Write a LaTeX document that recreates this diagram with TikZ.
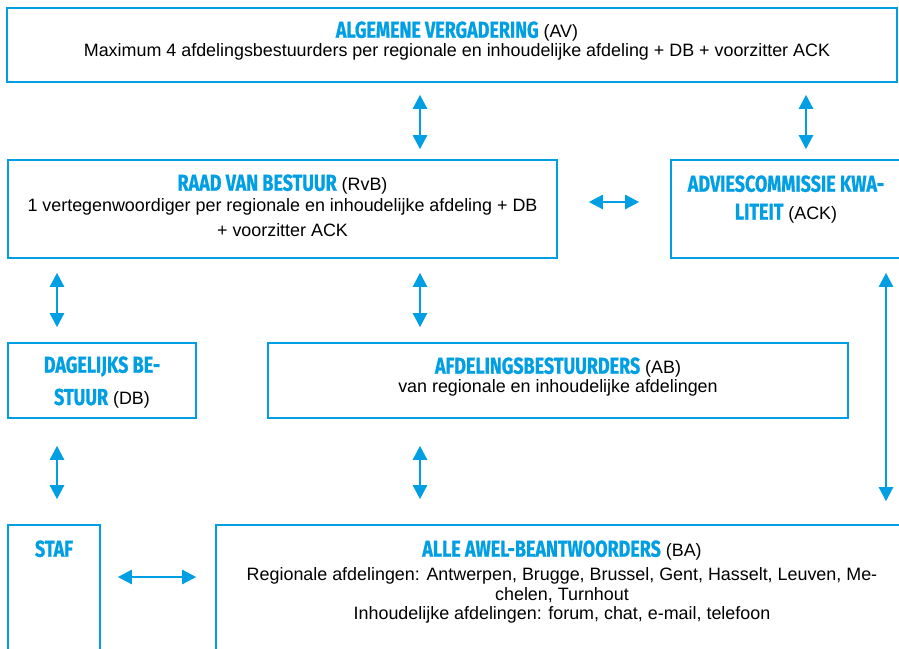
\documentclass[tikz,border=0pt]{standalone}
\usepackage{fontspec}
\setmainfont{Liberation Sans}
\newfontfamily\titlefont[FakeStretch=0.78,BoldFeatures={FakeBold=0.8}]{Fira Sans}
\usetikzlibrary{arrows.meta,positioning}
\definecolor{awelblue}{RGB}{0,158,227}
\newcommand{\boxtitle}[1]{{\titlefont\bfseries\fontsize{23}{23}\selectfont\color{awelblue}#1}}
\tikzset{
  orgbox/.style={draw=awelblue, line width=1.6pt, inner sep=0pt},
  boxtext/.style={anchor=north, align=center, inner sep=0pt, font=\fontsize{17.9}{19}\selectfont},
  link/.style={draw=awelblue, line width=2.4pt, {Triangle[length=14pt,width=14pt]}-{Triangle[length=14pt,width=14pt]}}
}
\begin{document}
\begin{tikzpicture}[x=1pt, y=-1pt]
  \clip (0,0) rectangle (899,648);
  % boxes
  \node[orgbox, minimum width=890pt, minimum height=74pt] (av) at (452,45) {};
  \node[orgbox, minimum width=549pt, minimum height=98pt] (rvb) at (282.5,209) {};
  \node[orgbox, minimum width=230pt, minimum height=98pt] (ack) at (786,209) {};
  \node[orgbox, minimum width=188pt, minimum height=75pt] (db) at (102,380.5) {};
  \node[orgbox, minimum width=580pt, minimum height=75pt] (ab) at (558,380.5) {};
  \node[orgbox, minimum width=92pt, minimum height=140pt] (staf) at (54,595) {};
  \node[orgbox, minimum width=700pt, minimum height=140pt] (ba) at (566,595) {};
  % texts
  \node[boxtext, below=14pt of av.north, xshift=5pt] (avtxt) {\boxtitle{ALGEMENE VERGADERING} (AV)\\
    Maximum 4 afdelingsbestuurders per regionale en inhoudelijke afdeling + DB + voorzitter ACK};
  \node[boxtext, below=15pt of rvb.north] (rvbtxt) {\boxtitle{RAAD VAN BESTUUR} (RvB)\\[2pt]
    1 vertegenwoordiger per regionale en inhoudelijke afdeling + DB\\[6pt]
    + voorzitter ACK};
  \node[boxtext, below=16pt of ack.north] (acktxt) {\boxtitle{ADVIESCOMMISSIE KWA-}\\[9pt]
    \boxtitle{LITEIT} (ACK)};
  \node[boxtext, below=14pt of db.north] (dbtxt) {\boxtitle{DAGELIJKS BE-}\\[11pt]
    \boxtitle{STUUR} (DB)};
  \node[boxtext, below=15pt of ab.north] (abtxt) {\boxtitle{AFDELINGSBESTUURDERS} (AB)\\
    van regionale en inhoudelijke afdelingen};
  \node[boxtext, below=16pt of staf.north] (staftxt) {\boxtitle{STAF}};
  \node[boxtext, below=16pt of ba.north, xshift=-4pt] (batxt) {\boxtitle{ALLE AWEL-BEANTWOORDERS} (BA)\\[5pt]
    Regionale afdelingen: Antwerpen, Brugge, Brussel, Gent, Hasselt, Leuven, Me-\\[1pt]
    chelen, Turnhout\\
    Inhoudelijke afdelingen: forum, chat, e-mail, telefoon};
  % columns for the arrows
  \coordinate (colleft) at (57,0);
  \coordinate (colmid) at (420,0);
  \coordinate (colack) at (806,0);
  \coordinate (colright) at (886,0);
  \coordinate (rowrvb) at (0,202);
  \coordinate (rowba) at (0,577);
  % arrows
  \draw[link, shorten <=12pt, shorten >=10pt] (av.south -| colmid) -- (rvb.north -| colmid);
  \draw[link, shorten <=12pt, shorten >=10pt] (av.south -| colack) -- (ack.north -| colack);
  \draw[link, shorten <=31pt, shorten >=31pt] (rvb.east |- rowrvb) -- (ack.west |- rowrvb);
  \draw[link, shorten <=14pt, shorten >=15pt] (rvb.south -| colleft) -- (db.north -| colleft);
  \draw[link, shorten <=14pt, shorten >=15pt] (rvb.south -| colmid) -- (ab.north -| colmid);
  \draw[link, shorten <=14pt, shorten >=23pt] (ack.south -| colright) -- (ba.north -| colright);
  \draw[link, shorten <=27pt, shorten >=25pt] (db.south -| colleft) -- (staf.north -| colleft);
  \draw[link, shorten <=27pt, shorten >=25pt] (ab.south -| colmid) -- (ba.north -| colmid);
  \draw[link, shorten <=17pt, shorten >=19pt] (staf.east |- rowba) -- (ba.west |- rowba);
\end{tikzpicture}
\end{document}
